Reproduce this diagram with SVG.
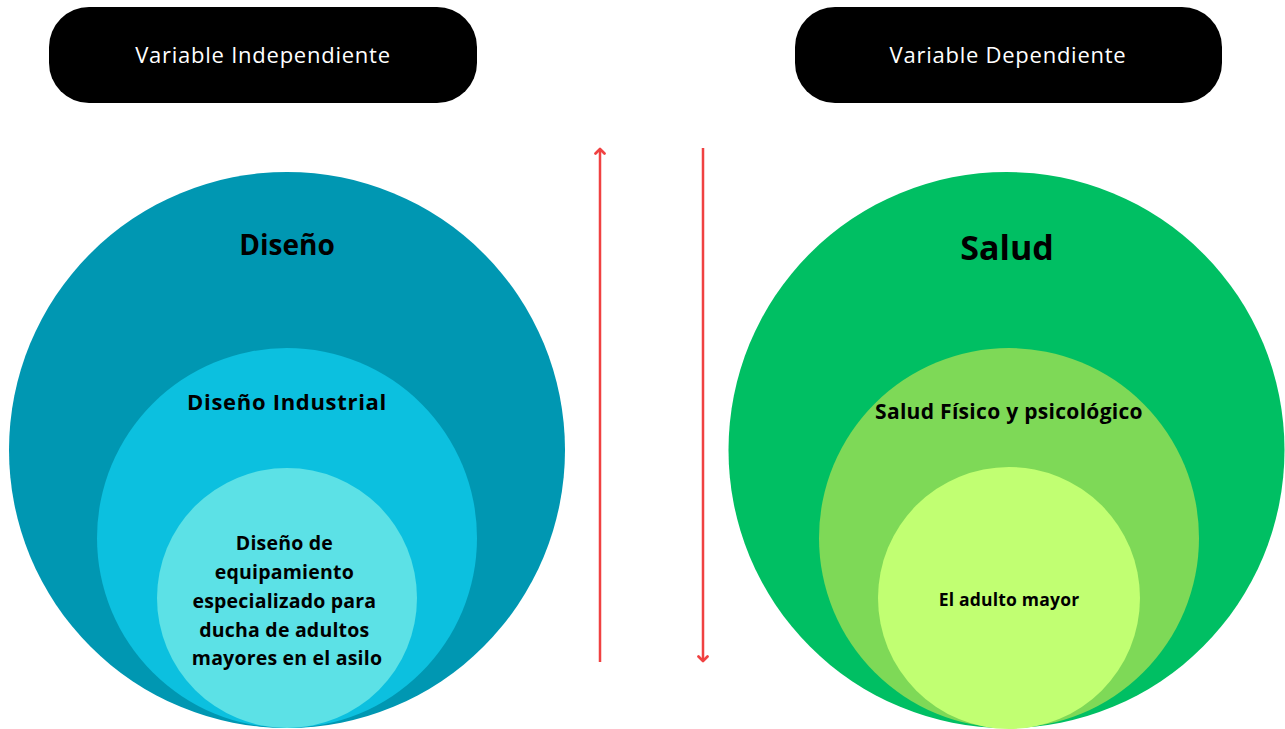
<svg xmlns="http://www.w3.org/2000/svg" width="1285" height="729" viewBox="0 0 1285 729">
<defs>
<style>
.hdr{fill:#000}
.hdrt{fill:#fff;font-family:"Open Sans","Liberation Sans",sans-serif;font-size:22px;font-weight:400;text-anchor:middle;letter-spacing:0.75px}
.lbl{fill:#000;font-family:"Open Sans","Liberation Sans",sans-serif;font-weight:700;text-anchor:middle}
.arr{stroke:#f04141;stroke-width:2.5;fill:none}
</style>
<marker id="ah" viewBox="0 0 10 10" refX="5" refY="5" markerWidth="4.5" markerHeight="4.5" orient="auto-start-reverse" markerUnits="strokeWidth">
<path d="M1,1 L5,5 L1,9" fill="none" stroke="#f04141" stroke-width="2.4" stroke-linecap="round" stroke-linejoin="round"/>
</marker>
</defs>
<rect width="1285" height="729" fill="#fff"/>
<g id="header-independiente">
<rect class="hdr" x="49" y="7" width="428" height="96" rx="40"/>
<text class="hdrt" x="263" y="63">Variable Independiente</text>
</g>
<g id="header-dependiente">
<rect class="hdr" x="795" y="7" width="427" height="96" rx="40"/>
<text class="hdrt" x="1008" y="63">Variable Dependiente</text>
</g>
<g id="diseno">
<circle cx="287" cy="450" r="278" fill="#0097b2"/>
<text class="lbl" x="287" y="255" font-size="28">Diseño</text>
</g>
<g id="diseno-industrial">
<circle cx="287" cy="538" r="190" fill="#0cc0df"/>
<text class="lbl" x="287" y="410" font-size="22" letter-spacing="0.7">Diseño Industrial</text>
</g>
<g id="diseno-equipamiento">
<circle cx="287" cy="598" r="130" fill="#5ce1e6"/>
<text class="lbl" font-size="19.5" letter-spacing="0.2">
<tspan x="287" y="550">Diseño de</tspan>
<tspan x="287" y="579">equipamiento</tspan>
<tspan x="287" y="608">especializado para</tspan>
<tspan x="287" y="637">ducha de adultos</tspan>
<tspan x="287" y="665">mayores en el asilo</tspan>
</text>
</g>
<g id="salud">
<circle cx="1006.5" cy="450" r="278" fill="#00bf63"/>
<text class="lbl" x="1007" y="260" font-size="34">Salud</text>
</g>
<g id="salud-fisico">
<circle cx="1009" cy="538" r="190" fill="#7ed957"/>
<text class="lbl" x="1009" y="419" font-size="21" letter-spacing="0.3">Salud Físico y psicológico</text>
</g>
<g id="adulto-mayor">
<circle cx="1009" cy="598" r="131" fill="#c1ff72"/>
<text class="lbl" x="1009" y="606" font-size="17.5" letter-spacing="0.2">El adulto mayor</text>
</g>
<g id="connectors">
<line class="arr" x1="600" y1="662" x2="600" y2="149" marker-end="url(#ah)"/>
<line class="arr" x1="703" y1="148" x2="703" y2="661" marker-end="url(#ah)"/>
</g>
</svg>
